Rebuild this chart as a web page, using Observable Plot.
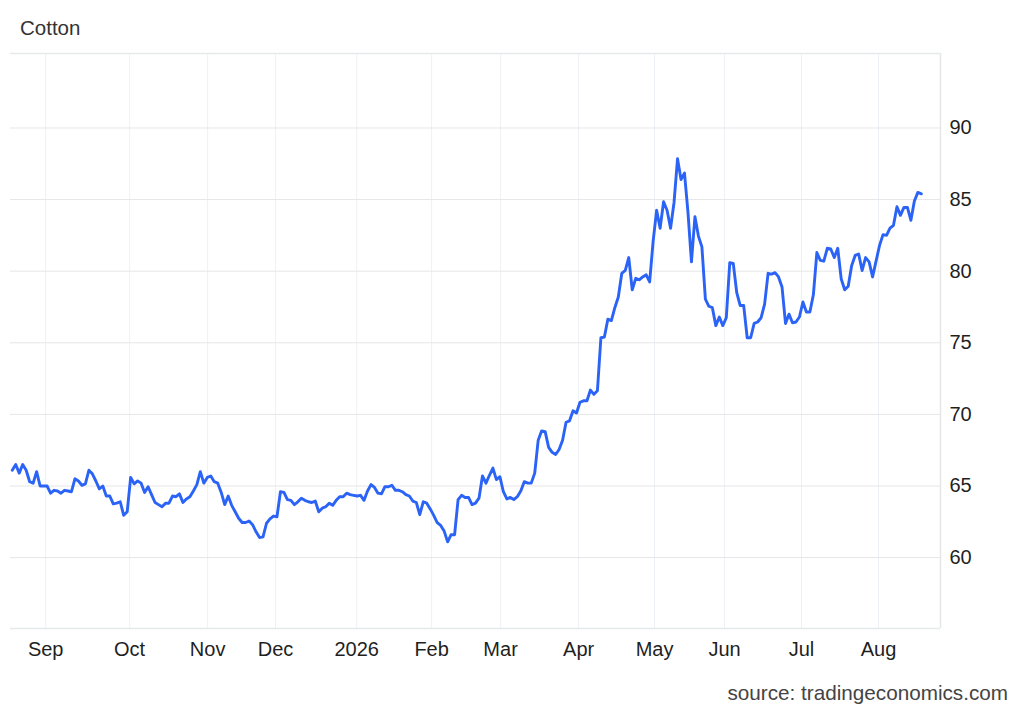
<!DOCTYPE html>
<html>
<head>
<meta charset="utf-8">
<script src="https://cdn.jsdelivr.net/npm/d3@7"></script>
<script src="https://cdn.jsdelivr.net/npm/@observablehq/plot@0.6"></script>
<style>
  html, body { margin: 0; padding: 0; background: #fff; }
  body { font-family: "Liberation Sans", Arial, Helvetica, sans-serif; }
  #wrap { position: relative; width: 1024px; height: 710px; overflow: hidden; }
  #title { position: absolute; left: 20px; top: 18px; font-size: 20.5px; line-height: 20px; color: #333; }
  #source { position: absolute; right: 16px; top: 683px; font-size: 20.7px; line-height: 20px; color: #444; }
  #chart { position: absolute; left: 0; top: 0; }
</style>
</head>
<body>
<div id="wrap">
  <div id="chart"></div>
  <div id="title">Cotton</div>
  <div id="source">source: tradingeconomics.com</div>
</div>
<script>
// Cotton price, one value per trading session (Aug 2025 – Aug 2026)
const values = [
  66.1, 66.5, 65.9, 66.5, 66.1, 65.3, 65.2, 66.0, 65.0, 65.0,
  65.0, 64.5, 64.7, 64.65, 64.5, 64.7, 64.65, 64.6, 65.5, 65.35,
  65.05, 65.15, 66.1, 65.85, 65.35, 64.8, 65.0, 64.3, 64.3, 63.75,
  63.8, 63.9, 62.95, 63.2, 65.6, 65.15, 65.35, 65.2, 64.55, 64.95,
  64.4, 63.85, 63.7, 63.55, 63.8, 63.8, 64.3, 64.25, 64.45, 63.85,
  64.1, 64.25, 64.65, 65.1, 66.0, 65.2, 65.6, 65.7, 65.3, 65.2,
  64.55, 63.7, 64.3, 63.65, 63.2, 62.75, 62.45, 62.45, 62.55, 62.3,
  61.8, 61.4, 61.45, 62.4, 62.7, 62.9, 62.85, 64.6, 64.55, 64.05,
  64.0, 63.7, 63.9, 64.15, 64.0, 63.9, 63.85, 63.95, 63.2, 63.45,
  63.55, 63.8, 63.65, 64.0, 64.25, 64.25, 64.5, 64.4, 64.35, 64.3,
  64.35, 64.0, 64.65, 65.1, 64.9, 64.5, 64.45, 64.95, 64.95, 65.05,
  64.7, 64.7, 64.6, 64.4, 64.3, 63.95, 63.85, 63.0, 63.9, 63.8,
  63.4, 62.95, 62.45, 62.25, 61.85, 61.1, 61.6, 61.6, 64.05, 64.35,
  64.2, 64.2, 63.7, 63.8, 64.15, 65.7, 65.2, 65.75, 66.25, 65.45,
  65.65, 64.6, 64.1, 64.2, 64.05, 64.25, 64.65, 65.3, 65.2, 65.2,
  65.9, 68.2, 68.85, 68.8, 67.7, 67.35, 67.2, 67.55, 68.2, 69.45,
  69.55, 70.25, 70.1, 70.85, 70.95, 70.95, 71.7, 71.4, 71.65, 75.35,
  75.4, 76.65, 76.55, 77.45, 78.2, 79.85, 80.05, 80.95, 78.7, 79.5,
  79.4, 79.6, 79.75, 79.25, 82.1, 84.25, 83.0, 84.85, 84.25, 83.0,
  84.8, 87.85, 86.4, 86.85, 84.1, 80.65, 83.8, 82.45, 81.7, 78.05,
  77.55, 77.45, 76.2, 76.8, 76.2, 76.75, 80.6, 80.55, 78.5, 77.6,
  77.6, 75.35, 75.35, 76.35, 76.45, 76.75, 77.7, 79.85, 79.8, 79.9,
  79.6, 78.9, 76.35, 77.0, 76.4, 76.45, 76.8, 77.85, 77.15, 77.15,
  78.35, 81.3, 80.75, 80.7, 81.6, 81.55, 80.95, 81.6, 79.45, 78.7,
  78.95, 80.4, 81.1, 81.2, 80.05, 80.95, 80.65, 79.6, 80.7, 81.8,
  82.55, 82.5, 83.0, 83.2, 84.5, 83.9, 84.45, 84.45, 83.55, 84.9,
  85.5, 85.4
];

// Month boundaries, expressed as session index
const monthLabels = ["Sep", "Oct", "Nov", "Dec", "2026", "Feb", "Mar", "Apr", "May", "Jun", "Jul", "Aug"];
const monthTicks  = [9.6, 33.7, 56.1, 75.6, 98.9, 120.4, 140.2, 162.6, 184.4, 204.5, 226.6, 248.7];

// Y axis ticks
const yTicks = [60, 65, 70, 75, 80, 85, 90];

const xDomain = [-0.5, 266.5];
const yDomain = [55.05, 95.2];

const data = values.map((v, i) => ({i, v}));
const labelOf = new Map(monthTicks.map((t, k) => [t, monthLabels[k]]));

const chart = Plot.plot({
  width: 1024,
  height: 710,
  marginTop: 53,
  marginBottom: 82,
  marginLeft: 10,
  marginRight: 84,
  x: {domain: xDomain, axis: null},
  y: {domain: yDomain, axis: null},
  style: {
    fontFamily: '"Liberation Sans", Arial, Helvetica, sans-serif',
    fontSize: "20px",
    color: "#1f1f1f",
    background: "transparent"
  },
  marks: [
    Plot.gridX(monthTicks, {stroke: "#edf1f5", strokeOpacity: 1, strokeWidth: 1}),
    Plot.gridY(yTicks, {stroke: "#e6e6e6", strokeOpacity: 1, strokeWidth: 1}),
    Plot.ruleY([yDomain[1]], {stroke: "#e6e9ec", strokeWidth: 1.5}),
    Plot.ruleY([yDomain[0]], {stroke: "#e6e9ec", strokeWidth: 1.5}),
    Plot.ruleX([xDomain[1]], {stroke: "#e6e6e6", strokeWidth: 1.5}),
    Plot.line(data, {x: "i", y: "v", stroke: "#2b63f7", strokeWidth: 2.9, strokeLinejoin: "round", strokeLinecap: "round"}),
    Plot.axisX(monthTicks, {
      anchor: "bottom",
      label: null,
      tickSize: 0,
      tickPadding: 13,
      fontSize: 20,
      tickFormat: d => labelOf.get(d)
    }),
    Plot.axisY(yTicks, {
      anchor: "right",
      label: null,
      tickSize: 0,
      tickPadding: 9,
      fontSize: 20
    })
  ]
});
document.getElementById("chart").appendChild(chart);
</script>
</body>
</html>
